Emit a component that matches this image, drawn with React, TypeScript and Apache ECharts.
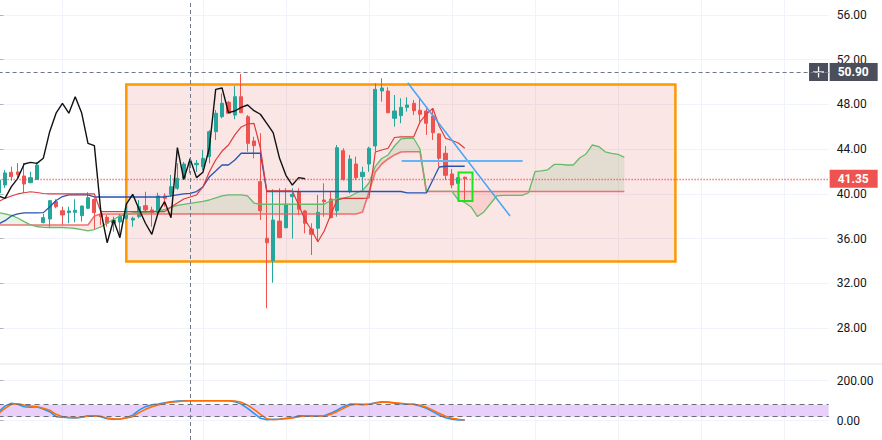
import React, { useEffect, useRef } from "react";
import * as echarts from "echarts";

// ---------- data ----------
const SLOT_COUNT = 131; // bar slots on the time axis (74 bars + future space)
const LAG = 25; // lagging span displacement

const OPEN = [
  40.08, 40.79, 41.93, 41.96, 41.6, 41.0, 41.3, 37.42, 37.75, 39.3,
  38.49, 38.32, 38.35, 38.05, 38.71, 39.51, 38.2, 37.9, 37.39, 37.48,
  37.81, 37.66, 37.96, 38.94, 38.56, 38.35, 39.81, 39.96, 40.5, 41.39,
  42.67, 42.61, 42.43, 43.33, 45.56, 46.9, 48.19, 47.05, 48.69, 46.9,
  44.73, 41.09, 36.03, 34.02, 37.57, 36.97, 39.75, 40.19, 38.47, 36.86,
  36.92, 39.45, 39.54, 38.49, 43.86, 40.19, 42.67, 41.54, 42.67, 44.28,
  49.2, 49.2, 46.76, 46.99, 47.74, 48.1, 47.48, 47.41, 46.96, 45.36,
  43.63, 41.78, 40.94, 41.48,
];
const CLOSE = [
  41.24, 41.87, 41.54, 41.73, 40.88, 41.45, 42.58, 37.87, 39.39, 38.85,
  38.11, 38.47, 38.53, 38.91, 39.66, 38.32, 37.96, 37.37, 37.66, 38.02,
  38.26, 37.81, 38.85, 38.56, 38.32, 39.81, 39.6, 40.64, 41.39, 42.67,
  42.82, 42.73, 43.18, 45.56, 47.21, 48.1, 47.21, 48.69, 47.26, 44.52,
  44.31, 38.49, 35.63, 37.66, 36.08, 39.07, 39.96, 38.62, 37.37, 36.38,
  38.35, 39.3, 37.87, 44.13, 41.3, 43.12, 41.45, 41.93, 44.08, 49.35,
  49.47, 47.26, 47.41, 47.74, 47.95, 47.44, 47.12, 46.31, 45.47, 43.18,
  41.66, 40.79, 41.45, 41.35,
];
const LOW = [
  39.9, 40.52, 41.18, 41.24, 40.08, 40.94, 41.24, 37.37, 37.01, 38.71,
  37.22, 37.37, 37.46, 37.51, 38.65, 36.77, 37.22, 37.06, 36.62, 36.32,
  37.66, 37.06, 37.81, 38.26, 37.06, 38.26, 38.85, 39.75, 40.35, 41.24,
  41.84, 41.96, 42.13, 42.73, 44.82, 46.76, 47.14, 46.67, 47.21, 43.77,
  43.18, 37.66, 29.76, 32.05, 36.03, 36.92, 36.0, 38.11, 36.47, 34.53,
  35.72, 37.96, 37.81, 37.96, 41.18, 40.05, 41.24, 40.35, 41.98, 43.77,
  48.25, 47.21, 46.01, 46.31, 47.35, 47.05, 46.46, 45.27, 44.82, 42.43,
  41.24, 40.5, 40.35, 39.36,
];
const HIGH = [
  41.6, 42.13, 42.43, 42.76, 42.76, 41.98, 42.82, 38.2, 39.45, 39.51,
  38.85, 38.85, 39.51, 38.95, 40.14, 39.6, 38.41, 38.11, 37.96, 38.2,
  38.85, 37.96, 39.45, 40.19, 38.85, 40.1, 40.05, 41.69, 42.73, 42.85,
  43.18, 43.03, 43.92, 45.71, 47.5, 48.99, 48.31, 49.65, 50.72, 47.05,
  45.11, 45.42, 40.35, 40.41, 40.5, 40.5, 40.5, 40.5, 38.56, 37.37,
  39.9, 40.94, 40.19, 44.37, 44.08, 43.48, 43.33, 42.43, 44.22, 49.89,
  50.34, 49.53, 48.84, 48.55, 48.64, 48.4, 48.55, 47.65, 47.5, 45.42,
  44.28, 42.22, 41.69, 41.54,
];
const CONVERSION = [
  39.3, 39.6, 39.81, 39.99, 40.1, 40.19, 40.12, 40.03, 39.99, 39.99,
  39.99, 39.99, 39.99, 39.99, 39.99, 39.99, 38.41, 38.41, 38.41, 38.41,
  38.41, 38.41, 38.41, 38.41, 38.41, 38.41, 38.41, 38.83, 39.18, 39.54,
  39.72, 39.9, 40.62, 41.96, 43.03, 43.83, 44.37, 45.27, 45.98, 46.25,
  46.31, 44.1, 40.26, 40.26, 40.26, 40.26, 40.26, 39.0, 37.66, 36.77,
  35.72, 36.68, 38.11, 39.45, 39.59, 39.59, 39.59, 39.59, 39.63, 43.74,
  43.92, 44.08, 45.04, 45.09, 45.09, 45.09, 46.43, 47.14, 47.65, 46.07,
  44.97, 44.77, 44.55, 44.08,
];
const BASE = [
  37.31, 37.6, 38.02, 38.2, 38.29, 38.29, 38.29, 38.32, 38.83, 39.4,
  39.76, 39.9, 39.9, 39.9, 39.9, 39.72, 39.72, 39.72, 39.72, 39.72,
  39.72, 39.72, 39.72, 39.72, 39.72, 39.72, 39.72, 39.81, 39.9, 39.99,
  40.05, 40.21, 40.62, 41.51, 42.04, 42.58, 42.58, 43.03, 43.63, 43.63,
  43.63, 43.63, 40.21, 40.21, 40.21, 40.21, 40.21, 40.21, 40.21, 40.21,
  40.21, 40.21, 40.21, 40.21, 40.21, 40.21, 40.21, 40.21, 40.21, 40.21,
  40.21, 40.21, 40.21, 40.21, 40.08, 40.08, 40.08, 40.08, 41.24, 42.4,
  42.47, 42.47, 42.47, 42.47,
];
const SPAN_A = [
  38.32, 38.2, 38.07, 37.84, 37.51, 37.22, 37.08, 37.01, 36.99, 36.99,
  36.99, 36.95, 36.9, 36.8, 36.68, 36.81, 37.04, 37.39, 37.71, 38.02,
  38.15, 38.29, 38.35, 38.35, 38.38, 38.47, 38.6, 38.78, 38.96, 39.05,
  39.14, 39.23, 39.32, 39.45, 39.63, 39.81, 39.9, 39.9, 39.9, 39.81,
  39.18, 39.07, 39.07, 39.07, 39.07, 39.07, 39.07, 39.07, 39.07, 39.07,
  39.07, 39.07, 39.41, 39.54, 39.63, 39.76, 40.08, 40.3, 40.97, 42.45,
  43.16, 43.48, 44.28, 44.91, 44.97, 44.97, 44.01, 40.23, 40.23, 40.23,
  40.23, 40.23, 39.45, 39.23, 38.83, 37.97, 38.38, 39.09, 39.81, 39.86,
  39.86, 39.86, 39.86, 40.1, 41.98, 42.06, 42.15, 42.63, 42.63, 42.58,
  42.58, 43.21, 43.57, 44.37, 44.23, 43.76, 43.62, 43.54, 43.27,
];
const SPAN_B = [
  37.22, 37.22, 37.22, 37.22, 37.22, 37.22, 37.22, 37.22, 37.22, 37.22,
  37.22, 37.22, 37.22, 37.22, 37.22, 38.02, 38.2, 38.2, 38.2, 38.2,
  38.2, 38.2, 38.2, 38.2, 38.2, 38.2, 38.2, 38.2, 38.2, 38.2,
  38.2, 38.2, 38.2, 38.2, 38.2, 38.2, 38.2, 38.2, 38.2, 38.2,
  38.2, 38.2, 38.2, 38.2, 38.2, 38.2, 38.2, 38.2, 38.2, 38.2,
  38.2, 38.2, 38.2, 38.2, 38.2, 38.2, 38.2, 38.38, 40.17, 41.96,
  42.67, 43.12, 43.48, 43.74, 43.77, 43.77, 43.77, 40.21, 40.21, 40.21,
  40.21, 40.21, 40.21, 40.21, 40.21, 40.21, 40.21, 40.21, 40.21, 40.21,
  40.21, 40.21, 40.21, 40.21, 40.21, 40.21, 40.21, 40.21, 40.21, 40.21,
  40.21, 40.21, 40.21, 40.21, 40.21, 40.21, 40.21, 40.21, 40.21,
];
const STOCH_K = [
  45, 73, 87, 82, 70, 67, 70, 58, 45, 20,
  17, 15, 13, 17, 25, 25, 20, 10, 7, 8,
  15, 28, 53, 70, 80, 83, 90, 95, 98, 100,
  100, 100, 100, 100, 100, 100, 100, 95, 83, 62,
  37, 12, 5, 7, 8, 12, 15, 25, 25, 23,
  23, 25, 37, 53, 70, 83, 82, 80, 82, 90,
  95, 92, 87, 85, 82, 82, 73, 62, 45, 28,
  15, 7, 3, 3,
];
const STOCH_D = [
  37, 62, 82, 85, 78, 73, 70, 62, 53, 32,
  20, 17, 15, 17, 23, 25, 22, 13, 10, 8,
  13, 20, 40, 57, 70, 78, 87, 92, 95, 98,
  100, 100, 100, 100, 100, 100, 100, 98, 92, 78,
  57, 32, 10, 5, 7, 10, 13, 20, 23, 25,
  23, 23, 32, 45, 62, 77, 82, 82, 82, 87,
  92, 93, 90, 87, 83, 82, 77, 67, 53, 37,
  23, 12, 7, 3,
];
const PRICE_TICKS = [28, 32, 36, 40, 44, 48, 52, 56];
const OSC_TICKS = [0, 200];
const TIME_GRID_BARS = [10, 32, 45, 58, 71, 84, 97, 110, 123];
const STOCH_BAND = [20, 80];
const LAST_PRICE = 41.35;
const CROSS_PRICE = 50.9;
const CROSS_BAR = 30;
const ZONE_BOX = [[20, 49.78], [106, 33.95]];
const FOCUS_BOX = [[72.03, 41.91], [74.22, 39.36]];
const TREND_LINE = [[64.07, 49.94], [80.1, 38.02]];
const LEVEL_LINE = [[63.13, 42.94], [82.08, 42.94]];

// axis ranges matching the panes
const PRICE_MIN = 24.78;
const PRICE_MAX = 57.34;
const OSC_MIN = -96.5;
const OSC_MAX = 283.5;

const FONT = "Roboto, 'Liberation Sans', sans-serif";
const GRID_COLOR = "#f0f3fa";
const CROSS_COLOR = "#6e7888";
const LABEL_BG = "#4a4f5b";

const pairs = (arr: number[], shift = 0) => arr.map((v, i) => [i + shift, v]);

function cloudRender(params: any, api: any) {
  const green = "rgba(67,160,71,0.13)";
  const red = "rgba(244,67,54,0.13)";
  const polys: any[] = [];
  let cur: any = null;
  for (let i = 0; i < SPAN_A.length; i++) {
    const d = SPAN_A[i] - SPAN_B[i];
    const s = d >= 0 ? 1 : -1;
    if (cur === null) {
      cur = { s, a: [[i, SPAN_A[i]]], b: [[i, SPAN_B[i]]] };
      continue;
    }
    if (s !== cur.s) {
      const dp = SPAN_A[i - 1] - SPAN_B[i - 1];
      const t = dp / (dp - d);
      const x = i - 1 + t;
      const v = SPAN_A[i - 1] + t * (SPAN_A[i] - SPAN_A[i - 1]);
      cur.a.push([x, v]);
      cur.b.push([x, v]);
      polys.push(cur);
      cur = { s, a: [[x, v]], b: [[x, v]] };
    }
    cur.a.push([i, SPAN_A[i]]);
    cur.b.push([i, SPAN_B[i]]);
  }
  if (cur) polys.push(cur);
  return {
    type: "group",
    children: polys.map((p) => ({
      type: "polygon",
      shape: {
        points: [...p.a, ...p.b.slice().reverse()].map((pt: number[]) => api.coord(pt)),
      },
      style: { fill: p.s > 0 ? green : red, stroke: "none" },
      silent: true,
    })),
  };
}

function buildOption() {
  const slots = Array.from({ length: SLOT_COUNT }, (_, i) => String(i));
  const candles = OPEN.map((o, i) => [o, CLOSE[i], LOW[i], HIGH[i]]);
  const lagging = CLOSE.slice(LAG).map((v, j) => [j, v]);

  const plainLine = {
    silent: true,
    symbol: ["none", "none"],
    label: { show: false },
    emphasis: { disabled: true },
  };
  const dashed = (color: string) => ({ color, width: 1, type: [4, 3] as any });

  const priceLabel = (text: string, bg: string) => ({
    show: true,
    position: "end",
    distance: 1,
    formatter: text,
    color: "#ffffff",
    backgroundColor: bg,
    fontFamily: FONT,
    fontSize: 12,
    fontWeight: "bold",
    lineHeight: 14,
    padding: [2, 9, 2, 8],
  });

  const valueX = (gridIndex: number) => ({
    type: "value",
    gridIndex,
    min: 0,
    max: SLOT_COUNT - 1,
    show: false,
  });
  const catX = (gridIndex: number) => ({
    type: "category",
    gridIndex,
    data: slots,
    boundaryGap: false,
    show: false,
  });
  const rightY = (gridIndex: number, min: number, max: number, ticks: number[]) => ({
    type: "value",
    gridIndex,
    position: "right",
    min,
    max,
    axisLine: { show: true, lineStyle: { color: "#e0e3eb", width: 1 } },
    axisTick: { show: true, length: 5, lineStyle: { color: "#b2b5be" }, customValues: ticks },
    axisLabel: {
      customValues: ticks,
      formatter: (v: number) => v.toFixed(2),
      color: "#131722",
      fontSize: 12,
      fontFamily: FONT,
      margin: 8,
    },
    splitLine: { show: false },
  });

  return {
    animation: false,
    backgroundColor: "#ffffff",
    textStyle: { fontFamily: FONT },
    grid: [
      { left: -1.4, right: 53.35, top: 0, height: 364, containLabel: false, outerBoundsMode: "none" },
      { left: -1.4, right: 53.35, top: 364, height: 76, containLabel: false, outerBoundsMode: "none" },
    ],
    xAxis: [catX(0), catX(1), valueX(0), valueX(1)],
    yAxis: [
      rightY(0, PRICE_MIN, PRICE_MAX, PRICE_TICKS),
      rightY(1, OSC_MIN, OSC_MAX, OSC_TICKS),
    ],
    series: [
      {
        name: "price",
        type: "candlestick",
        xAxisIndex: 0,
        yAxisIndex: 0,
        data: candles,
        barWidth: 3.7,
        z: 3,
        silent: true,
        itemStyle: {
          color: "#26a69a",
          color0: "#ef5350",
          borderColor: "#26a69a",
          borderColor0: "#ef5350",
          borderWidth: 1,
        },
      },
      {
        name: "cloud",
        type: "custom",
        xAxisIndex: 2,
        yAxisIndex: 0,
        data: [[0]],
        renderItem: cloudRender,
        clip: true,
        silent: true,
        z: 2,
      },
      {
        name: "leadingB",
        type: "line",
        xAxisIndex: 2,
        yAxisIndex: 0,
        data: pairs(SPAN_B),
        showSymbol: false,
        silent: true,
        z: 4,
        lineStyle: { color: "rgba(240,90,90,0.85)", width: 1.6 },
      },
      {
        name: "leadingA",
        type: "line",
        xAxisIndex: 2,
        yAxisIndex: 0,
        data: pairs(SPAN_A),
        showSymbol: false,
        silent: true,
        z: 4,
        lineStyle: { color: "#66bb6a", width: 1.3 },
      },
      {
        name: "base",
        type: "line",
        xAxisIndex: 2,
        yAxisIndex: 0,
        data: pairs(BASE),
        showSymbol: false,
        silent: true,
        z: 4,
        lineStyle: { color: "#2a52b0", width: 1.3 },
        markLine: {
          ...plainLine,
          z: 0,
          lineStyle: { color: GRID_COLOR, width: 1, type: "solid" },
          data: [
            ...PRICE_TICKS.map((v) => ({ yAxis: v })),
            ...TIME_GRID_BARS.map((b) => ({ xAxis: b })),
          ],
        },
        markArea: {
          silent: true,
          z: 1,
          label: { show: false },
          itemStyle: {
            color: "rgba(226,82,82,0.145)",
            borderColor: "#ff9800",
            borderWidth: 2.5,
          },
          data: [[{ coord: ZONE_BOX[0] }, { coord: ZONE_BOX[1] }]],
        },
      },
      {
        name: "conversion",
        type: "line",
        xAxisIndex: 2,
        yAxisIndex: 0,
        data: pairs(CONVERSION),
        showSymbol: false,
        silent: true,
        z: 4,
        lineStyle: { color: "#dd3b3b", width: 1.2 },
        markLine: {
          ...plainLine,
          z: 5,
          data: [
            {
              yAxis: LAST_PRICE,
              lineStyle: { color: "#f23645", width: 1.3, type: [1, 2] },
              label: priceLabel(LAST_PRICE.toFixed(2), "#ef5350"),
            },
            {
              yAxis: CROSS_PRICE,
              lineStyle: dashed(CROSS_COLOR),
              label: priceLabel(CROSS_PRICE.toFixed(2), LABEL_BG),
            },
            { xAxis: CROSS_BAR, lineStyle: dashed(CROSS_COLOR) },
            [
              { coord: TREND_LINE[0], lineStyle: { color: "#42a5f5", width: 1.5, type: "solid" } },
              { coord: TREND_LINE[1], lineStyle: { color: "#42a5f5", width: 1.5, type: "solid" } },
            ],
            [
              { coord: LEVEL_LINE[0], lineStyle: { color: "#64b5f6", width: 2, type: "solid" } },
              { coord: LEVEL_LINE[1], lineStyle: { color: "#64b5f6", width: 2, type: "solid" } },
            ],
          ],
        },
        markArea: {
          silent: true,
          z: 6,
          label: { show: false },
          itemStyle: { color: "rgba(0,0,0,0)", borderColor: "#1ee31e", borderWidth: 2 },
          data: [[{ coord: FOCUS_BOX[0] }, { coord: FOCUS_BOX[1] }]],
        },
      },
      {
        name: "lagging",
        type: "line",
        xAxisIndex: 2,
        yAxisIndex: 0,
        data: lagging,
        showSymbol: false,
        silent: true,
        z: 4,
        lineStyle: { color: "#111111", width: 1.4 },
      },
      {
        name: "stochK",
        type: "line",
        xAxisIndex: 3,
        yAxisIndex: 1,
        data: pairs(STOCH_K),
        showSymbol: false,
        silent: true,
        z: 4,
        lineStyle: { color: "#2196f3", width: 1.5 },
        markLine: {
          ...plainLine,
          z: 0,
          lineStyle: { color: GRID_COLOR, width: 1, type: "solid" },
          data: [
            ...OSC_TICKS.map((v) => ({ yAxis: v })),
            ...TIME_GRID_BARS.map((b) => ({ xAxis: b })),
          ],
        },
        markArea: {
          silent: true,
          z: 1,
          label: { show: false },
          itemStyle: { color: "rgba(170,80,240,0.27)" },
          data: [[{ yAxis: STOCH_BAND[0] }, { yAxis: STOCH_BAND[1] }]],
        },
      },
      {
        name: "stochD",
        type: "line",
        xAxisIndex: 3,
        yAxisIndex: 1,
        data: pairs(STOCH_D),
        showSymbol: false,
        silent: true,
        z: 4,
        lineStyle: { color: "#ff6d00", width: 1.5 },
        markLine: {
          ...plainLine,
          z: 5,
          data: [
            ...STOCH_BAND.map((v) => ({
              yAxis: v,
              lineStyle: { color: "#6a6d78", width: 1, type: [5, 4] },
            })),
            { xAxis: CROSS_BAR, lineStyle: dashed(CROSS_COLOR) },
          ],
        },
      },
    ],
  };
}

export default function App() {
  const ref = useRef<HTMLDivElement>(null);
  useEffect(() => {
    document.body.style.margin = "0";
    const chart = echarts.init(ref.current as HTMLDivElement, null, { renderer: "svg" });
    chart.setOption(buildOption() as any);

    const yCross = chart.convertToPixel({ yAxisIndex: 0 } as any, CROSS_PRICE) as number;
    const xRight = chart.convertToPixel({ xAxisIndex: 2 } as any, SLOT_COUNT - 1) as number;
    const ySep = chart.convertToPixel({ yAxisIndex: 0 } as any, PRICE_MIN) as number;

    chart.setOption({
      graphic: [
        {
          type: "line",
          z: 10,
          silent: true,
          shape: { x1: 0, y1: ySep, x2: 882, y2: ySep },
          style: { stroke: "#e0e3eb", lineWidth: 1 },
        },
        {
          type: "group",
          z: 20,
          x: xRight - 19.6,
          y: yCross - 9,
          silent: true,
          children: [
            { type: "rect", shape: { x: 0, y: 0, width: 19, height: 18 }, style: { fill: LABEL_BG } },
            { type: "line", shape: { x1: 4, y1: 9, x2: 15, y2: 9 }, style: { stroke: "#ffffff", lineWidth: 1.3 } },
            { type: "line", shape: { x1: 9.5, y1: 3.5, x2: 9.5, y2: 14.5 }, style: { stroke: "#ffffff", lineWidth: 1.3 } },
          ],
        },
      ],
    });

    return () => chart.dispose();
  }, []);
  return (
    <div
      ref={ref}
      style={{ position: "absolute", left: 0, top: 0, width: 882, height: 440 }}
    />
  );
}
